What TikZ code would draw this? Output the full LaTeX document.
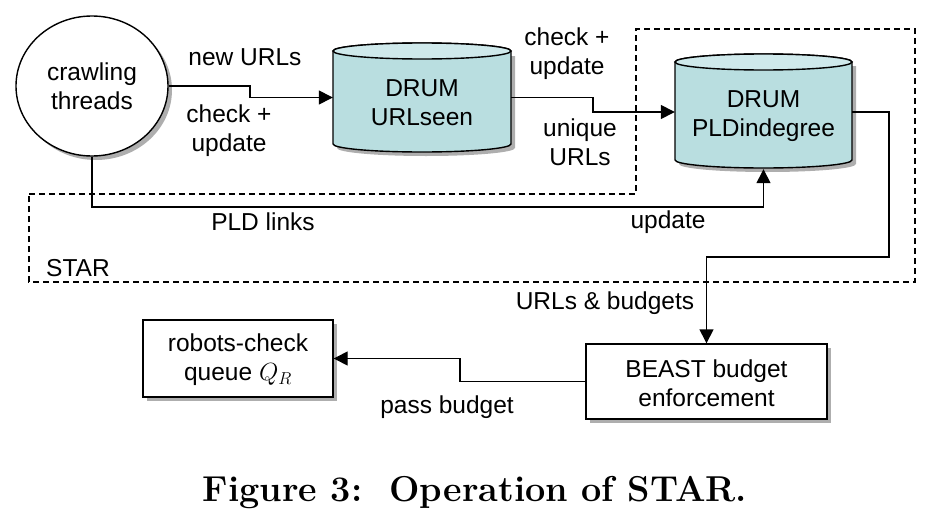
\documentclass[tikz,border=0pt]{standalone}
\usepackage{fontspec}
\newfontfamily\arialf{Liberation Sans}
\usetikzlibrary{arrows.meta,shapes.geometric,shadows}
\definecolor{cylbody}{HTML}{B9DEE0}
\definecolor{cyltop}{HTML}{CFE9EB}
\definecolor{shadowc}{HTML}{9A9A9A}
\begin{document}
\begin{tikzpicture}[x=1pt,y=1pt,
  every node/.style={font=\arialf\fontsize{24.5}{29}\selectfont, align=center, inner sep=0pt},
  arr/.style={line width=1.4pt, -{Triangle[length=14pt,width=14pt]}},
  boxs/.style={draw, line width=1.4pt, fill=white, rectangle,
     drop shadow={shadow xshift=4pt, shadow yshift=-4pt, fill=shadowc, opacity=0.8}},
  geo/.style={draw=none, rectangle, inner sep=0pt}
]
\useasboundingbox (0,0) rectangle (936,-514);

% STAR dashed region
\draw[line width=1.5pt, dash pattern=on 6pt off 4pt]
  (29,-194) -- (636,-194) -- (636,-29) -- (915,-29) -- (915,-282) -- (29,-282) -- cycle;

% crawling threads
\node[ellipse, draw, line width=1.4pt, fill=white, minimum width=152pt, minimum height=140pt,
  drop shadow={shadow xshift=4pt, shadow yshift=-4pt, fill=shadowc, opacity=0.8}]
  (ct) at (92,-86) {crawling\\threads};

% cylinder 1
\fill[shadowc, opacity=0.8] (337,-56) -- (337,-148) arc[start angle=180,end angle=360,x radius=89,y radius=8] -- (515,-56) -- cycle;
\draw[line width=1.4pt, fill=cylbody] (333,-51) -- (333,-144) arc[start angle=180,end angle=360,x radius=89,y radius=8] -- (511,-51) arc[start angle=0,end angle=180,x radius=89,y radius=8] -- cycle;
\draw[line width=1.4pt, fill=cyltop] (422,-51) ellipse[x radius=89,y radius=8];
\node[geo, minimum width=178pt, minimum height=109pt] (c1) at (422,-97.5) {};
\node (c1t) at (422,-103) {DRUM\\URLseen};

% cylinder 2
\fill[shadowc, opacity=0.8] (679,-66) -- (679,-164) arc[start angle=180,end angle=360,x radius=88.5,y radius=8] -- (856,-66) -- cycle;
\draw[line width=1.4pt, fill=cylbody] (675,-62) -- (675,-160) arc[start angle=180,end angle=360,x radius=88.5,y radius=8] -- (852,-62) arc[start angle=0,end angle=180,x radius=88.5,y radius=8] -- cycle;
\draw[line width=1.4pt, fill=cyltop] (763.5,-62) ellipse[x radius=88.5,y radius=8];
\node[geo, minimum width=177pt, minimum height=114pt] (c2) at (763.5,-112) {};
\node (c2t) at (763.5,-116.5) {DRUM\\PLDindegree};

% boxes
\node[boxs, minimum width=190pt, minimum height=77pt] (r) at (238,-358.5) {};
\node (rt) at (238,-360) {robots-check\\queue $Q_R$};
\node[boxs, minimum width=241pt, minimum height=75pt] (b) at (706.5,-381.5) {};
\node (bt) at (706.5,-383) {BEAST budget\\enforcement};

% connectors
\draw[arr] (ct.east) -- (250,-86) |- (c1.west);
\draw[arr] (c1.east) -- (593,-97.5) |- (c2.west);
\draw[arr] (ct.south) |- (763.5,-207) -- (c2.south);
\draw[arr] (c2.east) -| (889,-257) -| (b.north);
\draw[arr] (b.west) -- (460,-381.5) |- (r.east);

% labels
\node (l1) at (245,-57) {new URLs};
\node (l2) at (229,-131) {check +\\update};
\node (l3) at (567,-54) {check +\\update};
\node (l4) at (580,-142.5) {unique\\URLs};
\node (l5) at (263,-222) {PLD links};
\node (l6) at (668,-222) {update};
\node (l7) at (78,-268) {STAR};
\node (l8) at (605,-303) {URLs \& budgets};
\node (l9) at (447,-407) {pass budget};

% caption
\node[font=\rmfamily\bfseries\fontsize{36}{40}\selectfont] (cap) at (475,-493) {Figure 3:\ \ Operation of STAR.};
\end{tikzpicture}
\end{document}
